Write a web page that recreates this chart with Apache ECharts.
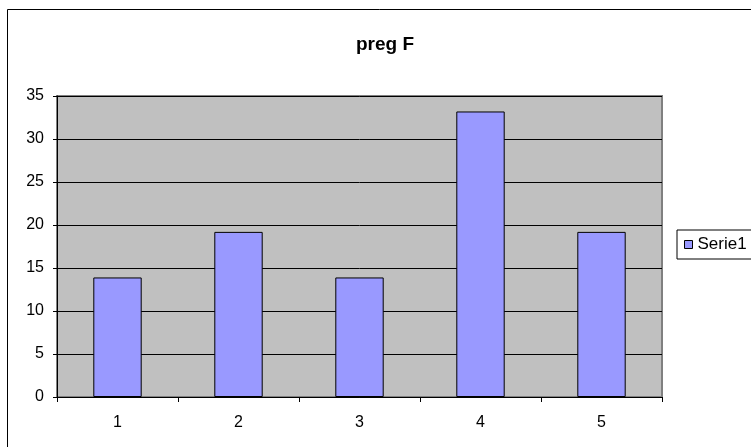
<!DOCTYPE html>
<html>
<head>
<meta charset="utf-8">
<script src="https://cdn.jsdelivr.net/npm/echarts@6/dist/echarts.min.js"></script>
<style>
html,body{margin:0;padding:0;background:#fff;}
#c{width:751px;height:447px;}
</style>
</head>
<body>
<div id="c"></div>
<script>
const titleText = 'preg F';
const categories = ['1', '2', '3', '4', '5'];
const seriesName = 'Serie1';
const values = [13.9, 19.2, 13.9, 33.2, 19.2];
const yMin = 0, yMax = 35, yStep = 5;

const chart = echarts.init(document.getElementById('c'), null, {renderer: 'canvas'});
const font = 'Arial, "Liberation Sans", sans-serif';
chart.setOption({
  animation: false,
  backgroundColor: '#fff',
  graphic: [
    {type: 'rect', left: 5, top: 7, shape: {width: 760, height: 460},
     style: {fill: 'none', stroke: '#000', lineWidth: 1}, z: 0, silent: true}
  ],
  title: {
    text: titleText, left: 380, top: 30, textAlign: 'center',
    textStyle: {fontFamily: font, fontSize: 19, fontWeight: 'bold', color: '#000'}
  },
  legend: {
    data: [seriesName], left: 677, top: 230, orient: 'vertical',
    backgroundColor: '#fff', borderColor: '#000', borderWidth: 1,
    padding: [6, 8, 6, 7], icon: 'rect', itemWidth: 8, itemHeight: 8, itemGap: 4,
    itemStyle: {borderColor: '#000', borderWidth: 1},
    textStyle: {fontFamily: font, fontSize: 17, color: '#000', padding: [0, 0, 0, 0]}
  },
  grid: {left: 57, top: 96, width: 605, height: 301, show: true,
         backgroundColor: '#C0C0C0', borderColor: '#808080', borderWidth: 2},
  xAxis: {
    type: 'category', data: categories,
    axisLine: {show: true, lineStyle: {color: '#000', width: 1}},
    axisTick: {show: true, alignWithLabel: false, length: 5, lineStyle: {color: '#000'}},
    axisLabel: {fontFamily: font, fontSize: 16, color: '#000', margin: 18},
    splitLine: {show: false}
  },
  yAxis: {
    type: 'value', min: yMin, max: yMax, interval: yStep,
    axisLine: {show: true, lineStyle: {color: '#000', width: 1}},
    axisTick: {show: true, length: 4, lineStyle: {color: '#000'}},
    axisLabel: {fontFamily: font, fontSize: 16, color: '#000', margin: 13},
    splitLine: {show: true, lineStyle: {color: '#000', width: 1}}
  },
  series: [{
    name: seriesName, type: 'bar', data: values, barWidth: '40%',
    itemStyle: {color: '#9999FF', borderColor: '#000', borderWidth: 1}
  }]
});
</script>
</body>
</html>
